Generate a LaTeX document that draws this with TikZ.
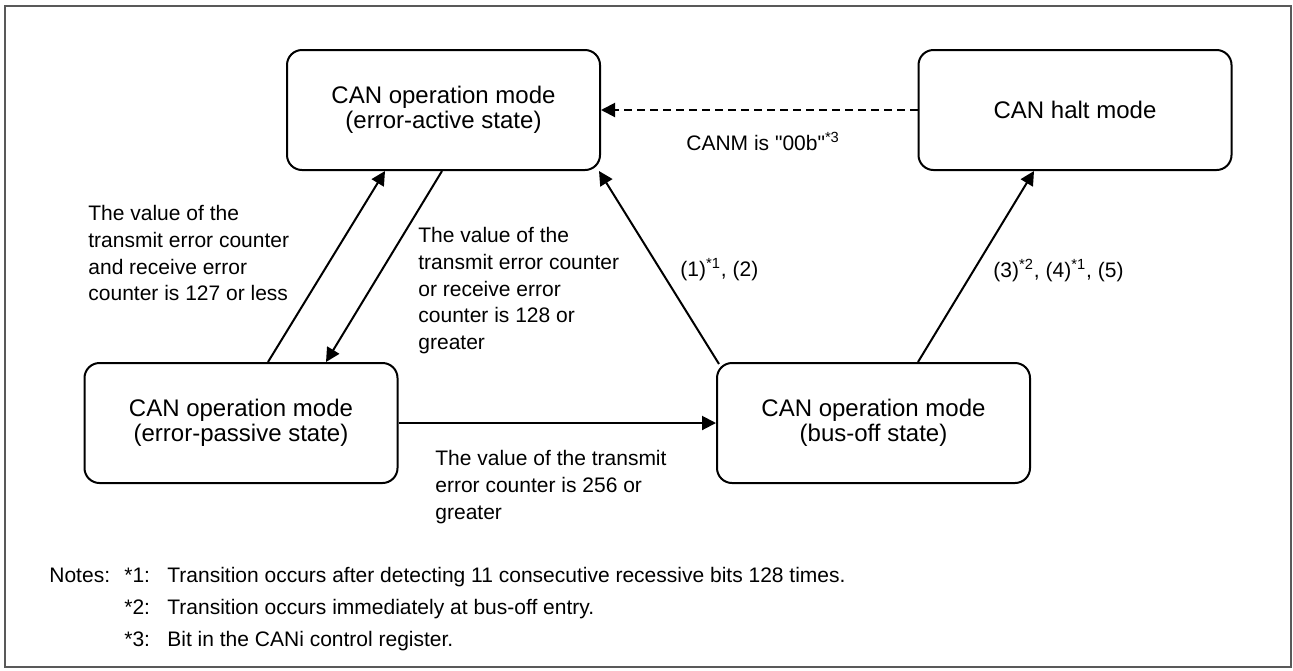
\documentclass[tikz,border=0pt]{standalone}
\usepackage{fontspec}
\setmainfont{Liberation Sans}
\usetikzlibrary{arrows.meta}

\begin{document}
\begin{tikzpicture}[x=0.5pt, y=-0.5pt, font=\fontsize{10.5}{13.35}\selectfont,
  st/.style={draw, line width=1pt, rounded corners=7.5pt, minimum width=156.5pt,
             minimum height=60pt, align=center, inner sep=0pt,
             font=\fontsize{12}{12.5}\selectfont},
  arr/.style={-{Triangle[length=7pt, width=7pt]}, line width=1pt},
  lbl/.style={anchor=north west, align=left, inner sep=0pt},
  one/.style={anchor=base west, inner sep=0pt},
  nt/.style={anchor=base west, inner sep=0pt}
]
\useasboundingbox (0,0) rectangle (1293,670);
\draw[gray!70!black, line width=0.8pt] (5,6) rectangle (1291,667);

\node[st] (act)  at (443.5,110) {CAN operation mode\\(error-active state)};
\node[st] (halt) at (1075,110)  {CAN halt mode};
\node[st] (pas)  at (241,423)   {CAN operation mode\\(error-passive state)};
\node[st] (bus)  at (873.5,423) {CAN operation mode\\(bus-off state)};

\draw[arr] ([xshift=13.5pt]pas.north) -- ([xshift=-29.25pt]act.south);
\draw[arr] ([xshift=-0.75pt]act.south) -- ([xshift=42.5pt]pas.north);
\draw[arr] ([xshift=1.5pt, yshift=-1pt]bus.north west) -- ([xshift=-1pt]act.south east);
\draw[arr] ([xshift=22.25pt]bus.north) -- ([xshift=-20.5pt]halt.south);
\draw[arr] (pas.east) -- (bus.west);
\draw[arr, dash pattern=on 4pt off 2.5pt] (halt.west) -- (act.east);

\node[lbl] (tlow)  at (88,205)  {The value of the\\transmit error counter\\and receive error\\counter is 127 or less};
\node[lbl] (thigh) at (418,227) {The value of the\\transmit error counter\\or receive error\\counter is 128 or\\greater};
\node[lbl] (tbus)  at (435,450) {The value of the transmit\\error counter is 256 or\\greater};
\node[one] (tback) at (680,276) {(1)\textsuperscript{*1}, (2)};
\node[one] (thalt) at (993,277) {(3)\textsuperscript{*2}, (4)\textsuperscript{*1}, (5)};
\node[one] (tcanm) at (686,150) {CANM is \textquotedbl 00b\textquotedbl\textsuperscript{*3}};

% notes
\node[nt] (n0) at (49,582) {Notes:};
\node[nt] (n1) at (124,582) {*1:};
\node[nt] (n2) at (124,614) {*2:};
\node[nt] (n3) at (124,646) {*3:};
\node[nt] (m1) at (167,582) {Transition occurs after detecting 11 consecutive recessive bits 128 times.};
\node[nt] (m2) at (167,614) {Transition occurs immediately at bus-off entry.};
\node[nt] (m3) at (167,646) {Bit in the CANi control register.};
\end{tikzpicture}
\end{document}
